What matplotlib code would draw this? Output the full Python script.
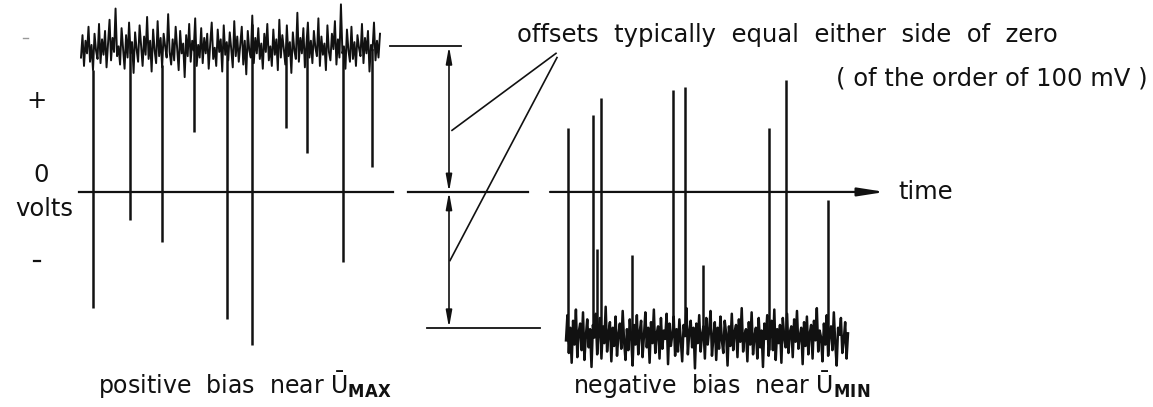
import numpy as np
import matplotlib
matplotlib.use("Agg")
import matplotlib.pyplot as plt

# voltage scale: millivolts, time in arbitrary sweep units
# trace held near +Umax: noise band plus downward spikes
pos_t0, pos_t1 = 81, 380
pos_noise = [
    96, 112, 90, 108, 99, 118, 93, 105, 87, 113, 101, 95, 120, 92, 109, 98, 115, 89, 106, 123,
    94, 110, 100, 131, 97, 104, 91, 117, 103, 88, 112, 96, 121, 99, 107, 85, 114, 102, 93, 119,
    105, 90, 111, 98, 125, 95, 108, 86, 116, 101, 92, 122, 97, 110, 89, 113, 104, 96, 127, 100,
    91, 109, 94, 118, 103, 87, 115, 99, 106, 82, 112, 97, 120, 93, 108, 101, 124, 90, 105, 96,
    117, 92, 110, 99, 113, 88, 106, 121, 95, 103, 90, 116, 100, 109, 86, 119, 98, 107, 94, 114,
    102, 89, 122, 97, 111, 93, 105, 118, 91, 108, 84, 115, 101, 96, 126, 92, 110, 99, 117, 95,
    106, 88, 113, 100, 120, 94, 104, 90, 116, 98, 109, 87, 123, 96, 112, 102, 91, 119, 97, 107,
    85, 114, 101, 95, 128, 93, 110, 99, 117, 89, 105, 121, 96, 108, 92, 115, 103, 97, 124, 90,
    111, 98, 106, 87, 119, 100, 94, 113, 102, 122, 91, 109, 96, 134, 99, 104, 88, 116, 101, 93,
    118, 95, 107, 90, 112, 103, 97, 120, 92, 110, 99, 115, 86, 105, 101, 121, 94, 108, 96, 113,
]
pos_spike_t = [93, 130, 162, 194, 227, 252, 286, 307, 343, 372]
pos_spike_mv = [-83, -20, -36, 43, -91, -109, 46, 28, -50, 18]

# trace held near -Umin: noise band plus upward spikes
neg_t0, neg_t1 = 566, 848
neg_noise = [
    -106, -88, -115, -97, -122, -92, -109, -84, -118, -100, -94, -113, -86, -120, -103, -91, -111, -98, -125, -95,
    -104, -87, -116, -99, -90, -119, -96, -108, -82, -114, -101, -93, -121, -97, -110, -89, -117, -102, -94, -112,
    -85, -107, -120, -98, -113, -91, -104, -124, -95, -109, -88, -116, -100, -92, -118, -103, -86, -111, -97, -122,
    -93, -108, -84, -115, -101, -96, -119, -90, -112, -99, -105, -87, -123, -94, -110, -102, -89, -117, -98, -114,
    -91, -106, -121, -95, -103, -83, -116, -100, -92, -111, -97, -126, -94, -108, -88, -114, -102, -96, -119, -90,
    -109, -99, -85, -117, -104, -93, -120, -97, -112, -89, -106, -115, -92, -101, -124, -96, -110, -87, -113, -100,
    -95, -118, -91, -107, -83, -114, -102, -98, -121, -93, -109, -86, -116, -103, -97, -119, -90, -111, -99, -125,
    -94, -105, -88, -117, -101, -92, -113, -84, -120, -98, -108, -95, -122, -90, -104, -111, -87, -115, -100, -96,
    -118, -91, -107, -85, -112, -103, -97, -123, -93, -110, -89, -116, -101, -95, -119, -92, -106, -83, -114, -99,
    -104, -121, -94, -109, -88, -117, -100, -96, -113, -86, -108, -124, -97, -102, -90, -115, -106, -93, -119, -101,
]
neg_spike_t = [568, 593, 597, 601, 632, 673, 685, 703, 769, 786, 828]
neg_spike_mv = [46, 55, -41, 67, -45, 73, 75, -52, 46, 80, -6]

# offset levels marked by the dimension arrows
offsets_mv = [104, -97]

ink = "#111111"
fig = plt.figure(figsize=(11.53, 4.07), dpi=100)
ax = fig.add_axes([0, 0, 1, 1])
ax.set_xlim(0, 1153)
ax.set_ylim(-153.6, 137.1)
ax.axis("off")

fs = 17.5

# zero axis, broken into segments, with the time arrow
for a, b in [(79, 393), (408, 528)]:
    ax.plot([a, b], [0, 0], color=ink, lw=1.6)
ax.annotate("", xy=(885, 0), xytext=(550, 0),
            arrowprops=dict(arrowstyle="-|>,head_length=1.6,head_width=0.25",
                            color=ink, lw=1.6, shrinkA=0, shrinkB=0))
ax.text(898, 0, "time", fontsize=fs, va="center", ha="left", color=ink)

# positive-bias trace
pt = np.linspace(pos_t0, pos_t1, len(pos_noise))
ax.plot(pt, pos_noise, color=ink, lw=1.4)
base = np.interp(pos_spike_t, pt, pos_noise)
ax.vlines(pos_spike_t, pos_spike_mv, base, color=ink, lw=1.8)

# negative-bias trace
nt = np.linspace(neg_t0, neg_t1, len(neg_noise))
ax.plot(nt, neg_noise, color=ink, lw=1.8)
base = np.interp(neg_spike_t, nt, neg_noise)
ax.vlines(neg_spike_t, base, neg_spike_mv, color=ink, lw=1.8)

# dimension lines for the offsets
ax.plot([390, 461], [offsets_mv[0]] * 2, color=ink, lw=1.3)
ax.plot([427, 540], [offsets_mv[1]] * 2, color=ink, lw=1.3)
for level in offsets_mv:
    ax.annotate("", xy=(449, level), xytext=(449, 0),
                arrowprops=dict(arrowstyle="<|-|>,head_length=1.0,head_width=0.18",
                                color=ink, lw=1.2, shrinkA=0, shrinkB=0))

# leader lines from the note to both arrows
ax.plot([556, 452], [99, 44], color=ink, lw=1.2)
ax.plot([557, 450], [96, -49], color=ink, lw=1.2)

ax.text(517, 112, "offsets  typically  equal  either  side  of  zero", fontsize=fs,
        va="center", ha="left", color=ink)
ax.text(1148, 81, "( of the order of 100 mV )", fontsize=fs, va="center",
        ha="right", color=ink)

# y annotations
ax.text(41, 12, "0", fontsize=fs, ha="center", va="center", color=ink)
ax.text(44, -12, "volts", fontsize=fs, ha="center", va="center", color=ink)
ax.text(37, 65, "+", fontsize=fs, ha="center", va="center", color=ink)
ax.plot([34, 40], [-49, -49], color=ink, lw=1.6)
ax.plot([23, 28], [110, 110], color="#999999", lw=1.0)

ax.text(98, -137, r"positive  bias  near $\mathrm{Ū}_{\mathbf{MAX}}$", fontsize=17,
        ha="left", va="center", color=ink)
ax.text(573, -137, r"negative  bias  near $\mathrm{Ū}_{\mathbf{MIN}}$", fontsize=17,
        ha="left", va="center", color=ink)

fig.savefig("out.png", dpi=100)
